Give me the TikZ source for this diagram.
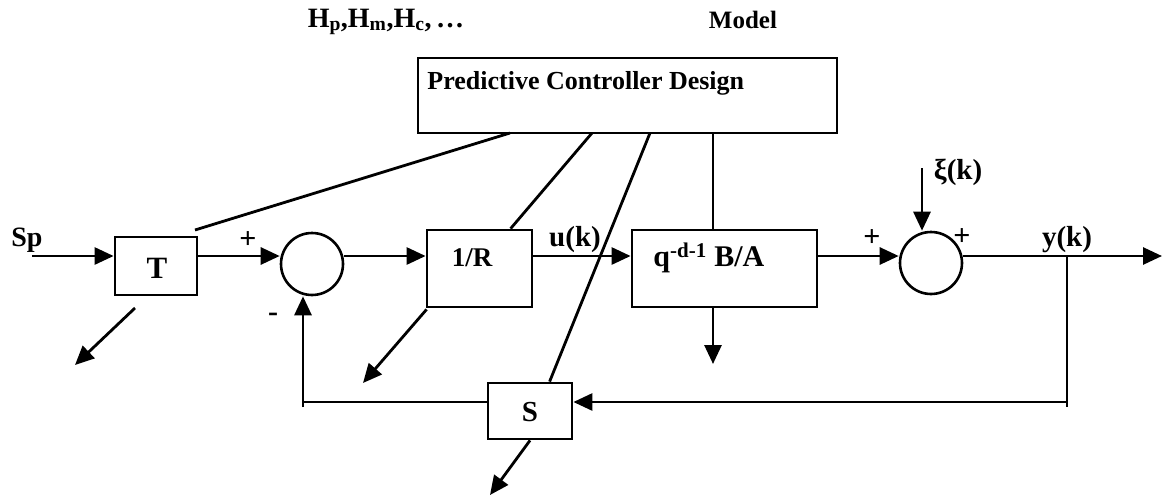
\documentclass[tikz,border=0pt]{standalone}
\usepackage{fontspec}
\setmainfont{Liberation Serif}
\usetikzlibrary{arrows.meta,calc}

\newcommand{\fsz}[1]{\fontsize{#1}{#1}\selectfont\bfseries}

\begin{document}
\begin{tikzpicture}[x=1pt,y=-1pt,line width=2.8pt,
  blk/.style={draw,line width=2.8pt,inner sep=0pt},
  sumnode/.style={draw,circle,line width=2.6pt,minimum size=62pt,inner sep=0pt},
  lbl/.style={inner sep=0pt},
  arr/.style={-{Triangle[length=19pt,width=17pt]}},
]
\useasboundingbox (0,0) rectangle (1163,496);

% blocks
\node[blk,minimum width=419pt,minimum height=75pt] (ctl) at (627.5,95.5) {};
\node[blk,minimum width=82pt,minimum height=58pt] (T) at (156,266) {};
\node[blk,minimum width=105pt,minimum height=77pt] (R) at (479.5,268.5) {};
\node[blk,minimum width=185pt,minimum height=77pt] (G) at (724.5,268.5) {};
\node[blk,minimum width=84pt,minimum height=56pt] (S) at (530,411) {};
\node[sumnode] (c1) at (312,264) {};
\node[sumnode] (c2) at (931,263) {};

% texts
\node[lbl] (hp) at (386,22) {\fsz{28}H\textsubscript{p},H\textsubscript{m},H\textsubscript{c},\,…};
\node[lbl] (model) at (743,20) {\fsz{25}Model};
\node[lbl,anchor=west] (ctltxt) at (426,83) {\fsz{26}Predictive Controller Design};
\node[lbl] (sp) at (27,240) {\fsz{28}Sp};
\node[lbl] (Ttxt) at (157,268) {\fsz{31}T};
\node[lbl] (Rtxt) at (472,258) {\fsz{27}1/R};
\node[lbl,anchor=west] (Gtxt) at (652,258) {\fsz{30}q\textsuperscript{-d-1} B/A};
\node[lbl] (Stxt) at (530,412) {\fsz{29}S};
\node[lbl] (uk) at (575,240) {\fsz{29}u(k)};
\node[lbl] (xik) at (958,172) {\fsz{29}ξ(k)};
\node[lbl] (yk) at (1067,240) {\fsz{29}y(k)};
\node[lbl] (p1) at (248,240) {\fsz{30}+};
\node[lbl] (m1) at (273,317) {\fsz{30}-};
\node[lbl] (p2) at (872,238) {\fsz{30}+};
\node[lbl] (p3) at (962,237) {\fsz{30}+};

% signal path coordinates
\coordinate (in) at (32,256);
\coordinate (out) at (1162,256);
\coordinate (j) at (1067,256);
\coordinate (jb) at (1067,402);
\coordinate (fb) at (303,402);
\coordinate (xi) at (922,168);

% forward path
\draw[arr] (in) -- (in -| T.west);
\draw[arr] (T.east |- in) -- (c1.west |- in);
\draw[arr] (c1.east |- in) -- (R.west |- in);
\draw[arr] (R.east |- in) -- (G.west |- in);
\draw[arr] (G.east |- in) -- (c2.west |- in);
\draw[arr] (c2.east |- in) -- (out);
\draw[arr] (xi) -- (xi |- c2.north);

% feedback path
\draw (j) -- ([yshift=-5pt]jb);
\draw[arr] (jb) -- (S.east |- jb);
\draw (S.west |- jb) -- (fb);
\draw[arr] ([yshift=-5pt]fb) -- (fb |- c1.south);

% controller design connections
\coordinate (k1) at (510,133);
\coordinate (k2) at (592,133);
\coordinate (k3) at (650,133);
\coordinate (k4) at (713,133);
\coordinate (ta) at (195,230);
\draw (ta) -- (k1);
\draw (k2) -- ($(R.north west)+(85,0)$);
\draw (k3) -- ($(S.north west)+(63,0)$);
\draw (k4) -- (k4 |- G.north);

% parameter outputs
\coordinate (tb) at (135,308);
\coordinate (te) at (75,365);
\coordinate (re) at (363,383);
\coordinate (se) at (490,495);
\coordinate (ge) at (713,364);
\draw[arr] (tb) -- (te);
\draw[arr] ($(R.south west)+(1,1)$) -- (re);
\draw[arr] (S.south) -- (se);
\draw[arr] (k4 |- G.south) -- (ge);
\end{tikzpicture}
\end{document}
